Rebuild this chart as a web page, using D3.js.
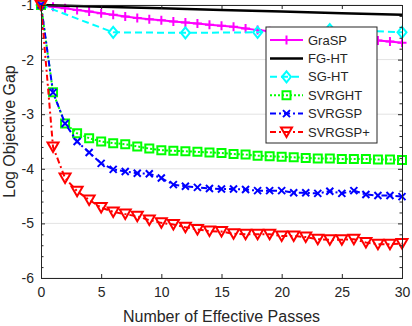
<!DOCTYPE html>
<html>
<head>
<meta charset="utf-8">
<script src="https://cdn.jsdelivr.net/npm/d3@7"></script>
<style>
  body { margin: 0; background: #fff; }
  text { font-family: "Liberation Sans", Arial, sans-serif; fill: #262626; }
</style>
</head>
<body>
<div id="chart-area"></div>
<script>
// effective passes (x)
var passes = [0,1,2,3,4,5,6,7,8,9,10,11,12,13,14,15,16,17,18,19,20,21,22,23,24,25,26,27,28,29,30];

// log objective gap for each method
var grasp = [-1,-1.03,-1.06,-1.09,-1.12,-1.15,-1.18,-1.21,-1.24,-1.26,-1.28,-1.30,-1.32,-1.34,-1.36,-1.38,-1.40,-1.43,-1.46,-1.48,-1.50,-1.52,-1.54,-1.56,-1.58,-1.60,-1.62,-1.63,-1.65,-1.67,-1.69];
var fgPasses = [0,5,10,15,20,25,30];
var fght = [-1,-1.03,-1.06,-1.09,-1.12,-1.15,-1.18];
var sgPasses = [0,6,12,18,24,30];
var sght = [-1,-1.5,-1.51,-1.5,-1.45,-1.5];
var svrght = [-1,-2.6,-3.17,-3.35,-3.44,-3.50,-3.53,-3.55,-3.59,-3.63,-3.66,-3.67,-3.68,-3.69,-3.70,-3.71,-3.73,-3.74,-3.76,-3.77,-3.78,-3.79,-3.80,-3.81,-3.81,-3.82,-3.82,-3.82,-3.83,-3.83,-3.84];
var svrgsp = [-1,-2.6,-3.17,-3.50,-3.70,-3.90,-4.01,-4.05,-4.08,-4.09,-4.17,-4.29,-4.32,-4.34,-4.36,-4.37,-4.37,-4.38,-4.40,-4.40,-4.40,-4.44,-4.44,-4.45,-4.41,-4.45,-4.40,-4.47,-4.49,-4.49,-4.51];
var svrgspPlus = [-1,-3.6,-4.17,-4.41,-4.57,-4.71,-4.79,-4.83,-4.87,-4.94,-4.99,-5.02,-5.07,-5.11,-5.14,-5.15,-5.19,-5.20,-5.20,-5.20,-5.23,-5.23,-5.25,-5.29,-5.30,-5.30,-5.29,-5.35,-5.38,-5.38,-5.37];

var xTicks = [0,5,10,15,20,25,30];
var yTicks = [-6,-5,-4,-3,-2,-1];
var yMinor = [-5.8,-5.6,-5.4,-5.2,-4.8,-4.6,-4.4,-4.2,-3.8,-3.6,-3.4,-3.2,-2.8,-2.6,-2.4,-2.2,-1.8,-1.6,-1.4,-1.2];

var margin = { left:41, right:10, top:5, bottom:48 },
  width = 412 - margin.left - margin.right,
  height = 326 - margin.top - margin.bottom;

var svg = d3.select("#chart-area").append("svg")
  .attr("width", 412)
  .attr("height", 326);

var g = svg.append("g")
  .attr("transform", "translate(" + margin.left + "," + margin.top + ")");

var x = d3.scaleLinear().domain([0, 30]).range([0, width]);
var y = d3.scaleLinear().domain([-6, -1]).range([height, 0]);

// grid
g.selectAll(".grid").data(yTicks).enter().append("line")
  .attr("x1", 0).attr("x2", width)
  .attr("y1", d => y(d)).attr("y2", d => y(d))
  .attr("stroke", "#e3e3e3").attr("stroke-width", 1);

// marker shapes
var markers = {
  plus: "M-4.5,0H4.5M0,-4.5V4.5",
  none: null,
  diamond: "M0,-5.5L4.5,0L0,5.5L-4.5,0Z",
  square: "M-4,-4H4V4H-4Z",
  cross: "M-3.5,-3.5L3.5,3.5M-3.5,3.5L3.5,-3.5",
  tri: "M-5.5,-4.5L5.5,-4.5L0,5Z"
};

var series = [
  { name: "GraSP", xs: passes, ys: grasp, color: "#ff00ff", dash: null, width: 2, marker: "plus" },
  { name: "FG-HT", xs: fgPasses, ys: fght, color: "#000000", dash: null, width: 2.5, marker: "none" },
  { name: "SG-HT", xs: sgPasses, ys: sght, color: "#00ffff", dash: "7,4", width: 2, marker: "diamond" },
  { name: "SVRGHT", xs: passes, ys: svrght, color: "#00ff00", dash: "2,2", width: 2, marker: "square" },
  { name: "SVRGSP", xs: passes, ys: svrgsp, color: "#0000ff", dash: "6,3,2,3", width: 2, marker: "cross" },
  { name: "SVRGSP+", xs: passes, ys: svrgspPlus, color: "#ff0000", dash: "6,3,2,3", width: 2, marker: "tri" }
];

var line = d3.line()
  .x(d => x(d[0]))
  .y(d => y(d[1]));

series.forEach(function(s) {
  var pts = s.xs.map((v, i) => [v, s.ys[i]]);
  g.append("path")
    .attr("d", line(pts))
    .attr("fill", "none")
    .attr("stroke", s.color)
    .attr("stroke-width", s.width)
    .attr("stroke-dasharray", s.dash);
  if (markers[s.marker]) {
    g.selectAll(null).data(pts).enter().append("path")
      .attr("d", markers[s.marker])
      .attr("transform", d => "translate(" + x(d[0]) + "," + y(d[1]) + ")")
      .attr("fill", "none")
      .attr("stroke", s.color)
      .attr("stroke-width", 2);
  }
});

// axes
var axisColor = "#262626";
g.append("g")
  .attr("class", "labeled")
  .attr("transform", "translate(0," + height + ")")
  .call(d3.axisBottom(x).tickValues(xTicks).tickSize(-4).tickPadding(9));
g.append("g")
  .call(d3.axisTop(x).tickValues(xTicks).tickSize(-4).tickFormat(""));
g.append("g")
  .attr("class", "labeled")
  .call(d3.axisLeft(y).tickValues(yTicks).tickSize(-4).tickPadding(7)
    .tickFormat(d => d < 0 ? "-" + Math.abs(d) : d));
g.append("g")
  .attr("transform", "translate(" + width + ",0)")
  .call(d3.axisRight(y).tickValues(yTicks).tickSize(-4).tickFormat(""));
g.append("g")
  .call(d3.axisLeft(y).tickValues(yMinor).tickSize(-2.5).tickFormat(""));
g.append("g")
  .attr("transform", "translate(" + width + ",0)")
  .call(d3.axisRight(y).tickValues(yMinor).tickSize(-2.5).tickFormat(""));

g.selectAll(".domain").attr("stroke", axisColor);
g.selectAll(".tick line").attr("stroke", axisColor);
g.selectAll(".labeled .tick text")
  .style("font-size", "14px")
  .attr("fill", axisColor);

// axis titles
g.append("text")
  .attr("x", width / 2)
  .attr("y", height + 44)
  .attr("text-anchor", "middle")
  .style("font-size", "16px")
  .text("Number of Effective Passes");

g.append("text")
  .attr("transform", "rotate(-90)")
  .attr("x", -height / 2 + 10)
  .attr("y", -26)
  .attr("text-anchor", "middle")
  .style("font-size", "16px")
  .text("Log Objective Gap");

// legend
var legend = svg.append("g").attr("transform", "translate(266,27)");
legend.append("rect")
  .attr("width", 111).attr("height", 116)
  .attr("fill", "#fff").attr("stroke", axisColor).attr("stroke-width", 1);

series.forEach(function(s, i) {
  var ly = 13 + i * 18.4;
  var row = legend.append("g").attr("transform", "translate(0," + ly + ")");
  row.append("line")
    .attr("x1", 4).attr("x2", 37)
    .attr("stroke", s.color).attr("stroke-width", s.width)
    .attr("stroke-dasharray", s.dash);
  if (markers[s.marker]) {
    row.append("path")
      .attr("d", markers[s.marker])
      .attr("transform", "translate(20.5,0)")
      .attr("fill", "none").attr("stroke", s.color).attr("stroke-width", 2);
  }
  row.append("text")
    .attr("x", 42).attr("dy", "0.35em")
    .style("font-size", "13px")
    .text(s.name);
});
</script>
</body>
</html>
